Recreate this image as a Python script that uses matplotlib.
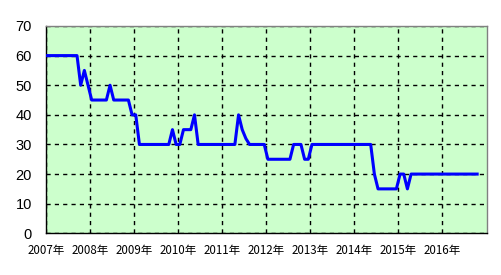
import matplotlib
matplotlib.use('Agg')
import matplotlib.pyplot as plt
import numpy as np

# monthly values, Jan 2007 .. Oct 2016
vals_2007 = [60, 60, 60, 60, 60, 60, 60, 60, 60, 50, 55, 50]
vals_2008 = [45, 45, 45, 45, 45, 50, 45, 45, 45, 45, 45, 40]
vals_2009 = [40, 30, 30, 30, 30, 30, 30, 30, 30, 30, 35, 30]
vals_2010 = [30, 35, 35, 35, 40, 30, 30, 30, 30, 30, 30, 30]
vals_2011 = [30, 30, 30, 30, 40, 35, 32, 30, 30, 30, 30, 30]
vals_2012 = [25, 25, 25, 25, 25, 25, 25, 30, 30, 30, 25, 25]
vals_2013 = [30, 30, 30, 30, 30, 30, 30, 30, 30, 30, 30, 30]
vals_2014 = [30, 30, 30, 30, 30, 20, 15, 15, 15, 15, 15, 15]
vals_2015 = [20, 20, 15, 20, 20, 20, 20, 20, 20, 20, 20, 20]
vals_2016 = [20, 20, 20, 20, 20, 20, 20, 20, 20, 20]

values = (vals_2007 + vals_2008 + vals_2009 + vals_2010 + vals_2011 +
          vals_2012 + vals_2013 + vals_2014 + vals_2015 + vals_2016)

years = list(range(2007, 2017))
year_labels = [str(y) + '年' for y in years]
y_ticks = [0, 10, 20, 30, 40, 50, 60, 70]

months = np.arange(len(values))
x = 2007 + (months + 0.45) / 12.0

fig = plt.figure(figsize=(5.01, 2.75), dpi=100, facecolor='white')
ax = fig.add_axes([0.0918, 0.1516, 0.8793, 0.7539])
ax.set_facecolor('#CCFFCC')

ax.plot(x, values, color='#0000FF', linewidth=2.2, zorder=3)

ax.set_xlim(2007, 2017)
ax.set_ylim(0, 70)
ax.set_xticks(years)
ax.set_xticklabels(year_labels, fontfamily=['Noto Sans CJK JP', 'DejaVu Sans'], fontsize=8.3)
ax.set_yticks(y_ticks)
ax.set_yticklabels([str(v) for v in y_ticks], fontfamily='Liberation Sans', fontsize=10.5)
ax.tick_params(axis='both', length=0)
ax.tick_params(axis='y', pad=10)
ax.tick_params(axis='x', pad=8)

ax.grid(True, color='black', linestyle=(0, (3, 3)), linewidth=1, zorder=1)

ax.spines['left'].set_color('black')
ax.spines['bottom'].set_color('black')
ax.spines['top'].set_color('#808080')
ax.spines['right'].set_color('#808080')
for s in ax.spines.values():
    s.set_linewidth(1)

fig.savefig('out.png', dpi=100)
